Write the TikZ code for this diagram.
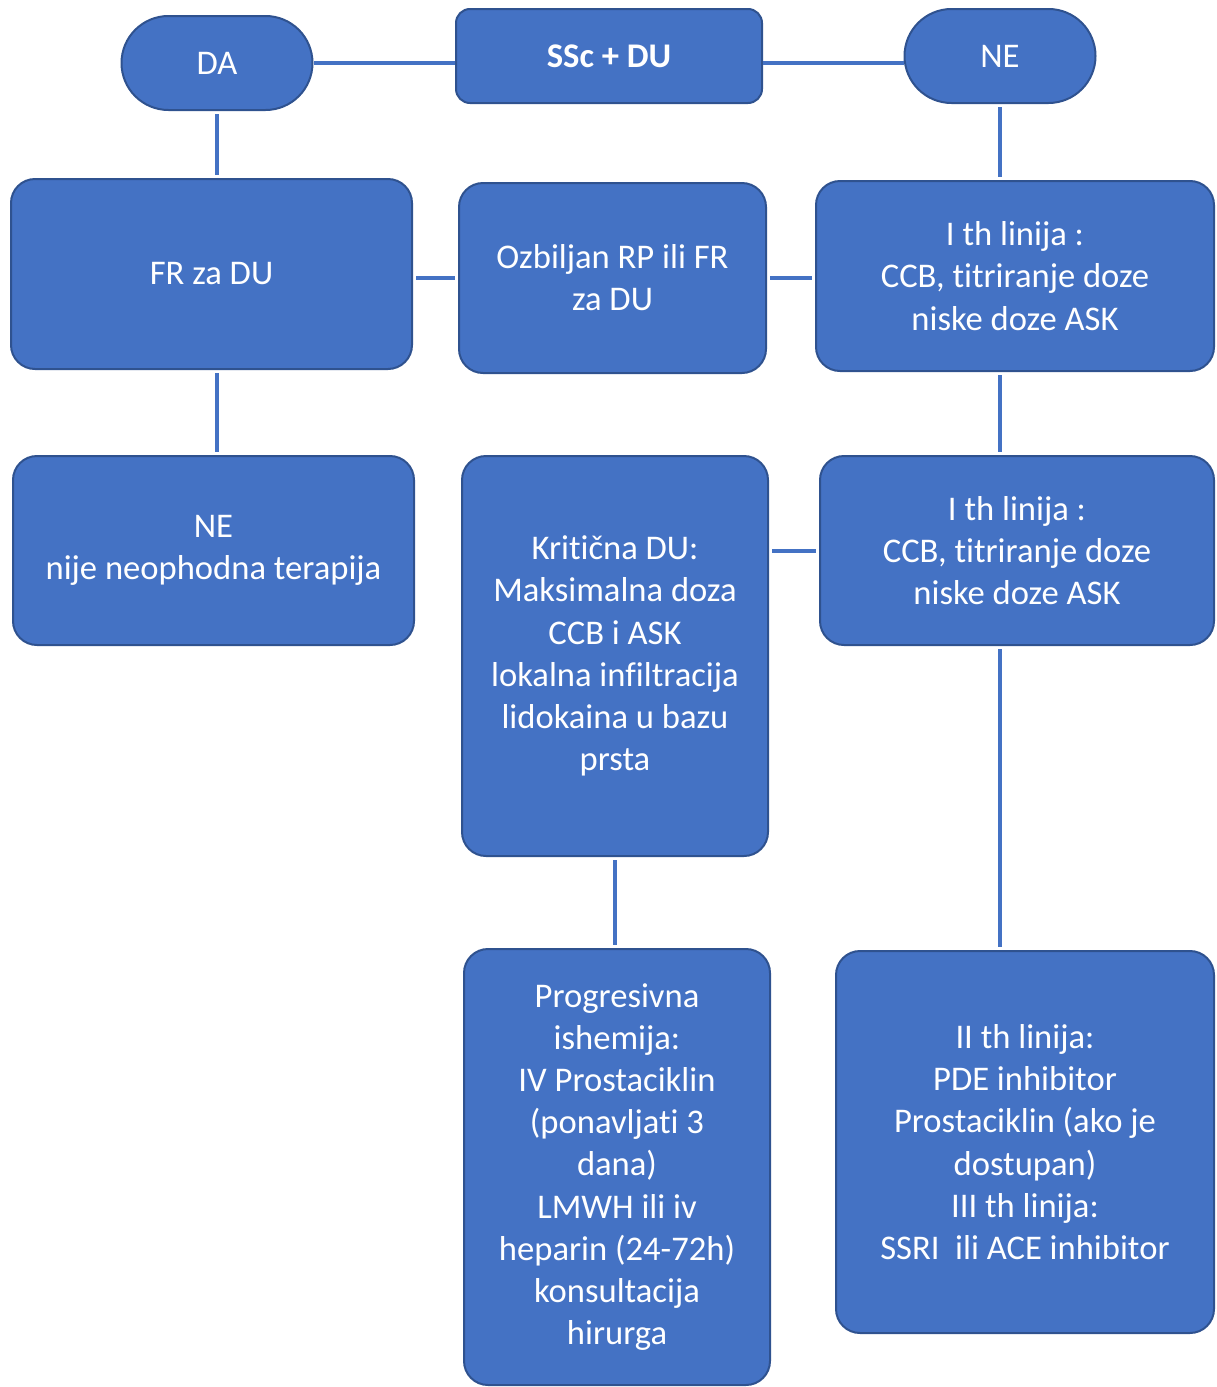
\documentclass[tikz,border=0pt]{standalone}
\usepackage{fontspec}
\setmainfont{Carlito}[Ligatures = NoCommon, RawFeature = {-liga;-clig;-calt;-dlig}]
\definecolor{boxBlue}{HTML}{4472C4}
\definecolor{boxEdge}{HTML}{2F528F}

\begin{document}
\begin{tikzpicture}[x = 0.5pt, y = -0.5pt]
\tikzstyle{boxStyle} = [shape = rectangle, rounded corners = 12pt, draw = boxEdge, line width = 1pt, fill = boxBlue, text = white, align = center, inner sep = 2pt, font = \fontsize{17.3}{21.1}\selectfont]
\tikzstyle{pillStyle} = [boxStyle, rounded corners = 23.5pt, minimum width = 95.5pt, minimum height = 47pt]
\tikzstyle{linkStyle} = [draw = boxBlue, line width = 2pt, shorten <= 1.5pt, shorten >= 1.5pt]
\useasboundingbox (0,0) rectangle (1216,1387);
\node[pillStyle] (da) at (217,63) {DA};
\node[boxStyle, rounded corners = 7pt, minimum width = 153pt, minimum height = 47pt] (ssc) at (609,56) {\textbf{SSc + DU}};
\node[pillStyle] (ne) at (1000,56) {NE};
\node[boxStyle, minimum width = 200.5pt, minimum height = 95pt] (fr) at (211.5,274) {FR za DU};
\node[boxStyle, minimum width = 153.5pt, minimum height = 95pt] (ozb) at (612.5,278) {Ozbiljan RP ili FR\\za DU};
\node[boxStyle, minimum width = 199pt, minimum height = 95pt] (ith1) at (1015,276) {I th linija :\\CCB, titriranje doze\\niske doze ASK};
\node[boxStyle, minimum width = 200.5pt, minimum height = 94.5pt] (nijeter) at (213.5,550.5) {NE\\nije neophodna terapija};
\node[boxStyle, minimum width = 153pt, minimum height = 200pt] (krit) at (615,656) {Kritična DU:\\Maksimalna doza\\CCB i ASK\\lokalna infiltracija\\lidokaina u bazu\\prsta};
\node[boxStyle, minimum width = 197pt, minimum height = 94.5pt] (ith2) at (1017,550.5) {I th linija :\\CCB, titriranje doze\\niske doze ASK};
\node[boxStyle, minimum width = 153pt, minimum height = 218pt] (prog) at (617,1167) {Progresivna\\ishemija:\\IV Prostaciklin\\(ponavljati 3\\dana)\\LMWH ili iv\\heparin (24-72h)\\konsultacija\\hirurga};
\node[boxStyle, minimum width = 189pt, minimum height = 191pt] (iith) at (1025,1142) {II th linija:\\PDE inhibitor\\Prostaciklin (ako je\\dostupan)\\III th linija:\\SSRI\ \ ili ACE inhibitor};
\draw[linkStyle, shorten <= 0pt, shorten >= 0pt] (da.east) -- (da.east -| ssc.west);
\draw[linkStyle, shorten <= 0pt, shorten >= 0pt] (ssc.east |- da.east) -- (ne.west |- da.east);
\draw[linkStyle] (da.south) -- (da.south |- fr.north);
\draw[linkStyle] (ne.south) -- (ne.south |- ith1.north);
\draw[linkStyle] (fr.east |- ozb.west) -- (ozb.west);
\draw[linkStyle] (ozb.east) -- (ozb.east -| ith1.west);
\draw[linkStyle] (fr.south -| da) -- (nijeter.north -| da);
\draw[linkStyle] (ith1.south -| ne) -- (ith2.north -| ne);
\draw[linkStyle] (krit.east |- ith2.west) -- (ith2.west);
\draw[linkStyle] (ith2.south -| ne) -- (iith.north -| ne);
\draw[linkStyle] (krit.south) -- (krit.south |- prog.north);
\end{tikzpicture}
\end{document}
